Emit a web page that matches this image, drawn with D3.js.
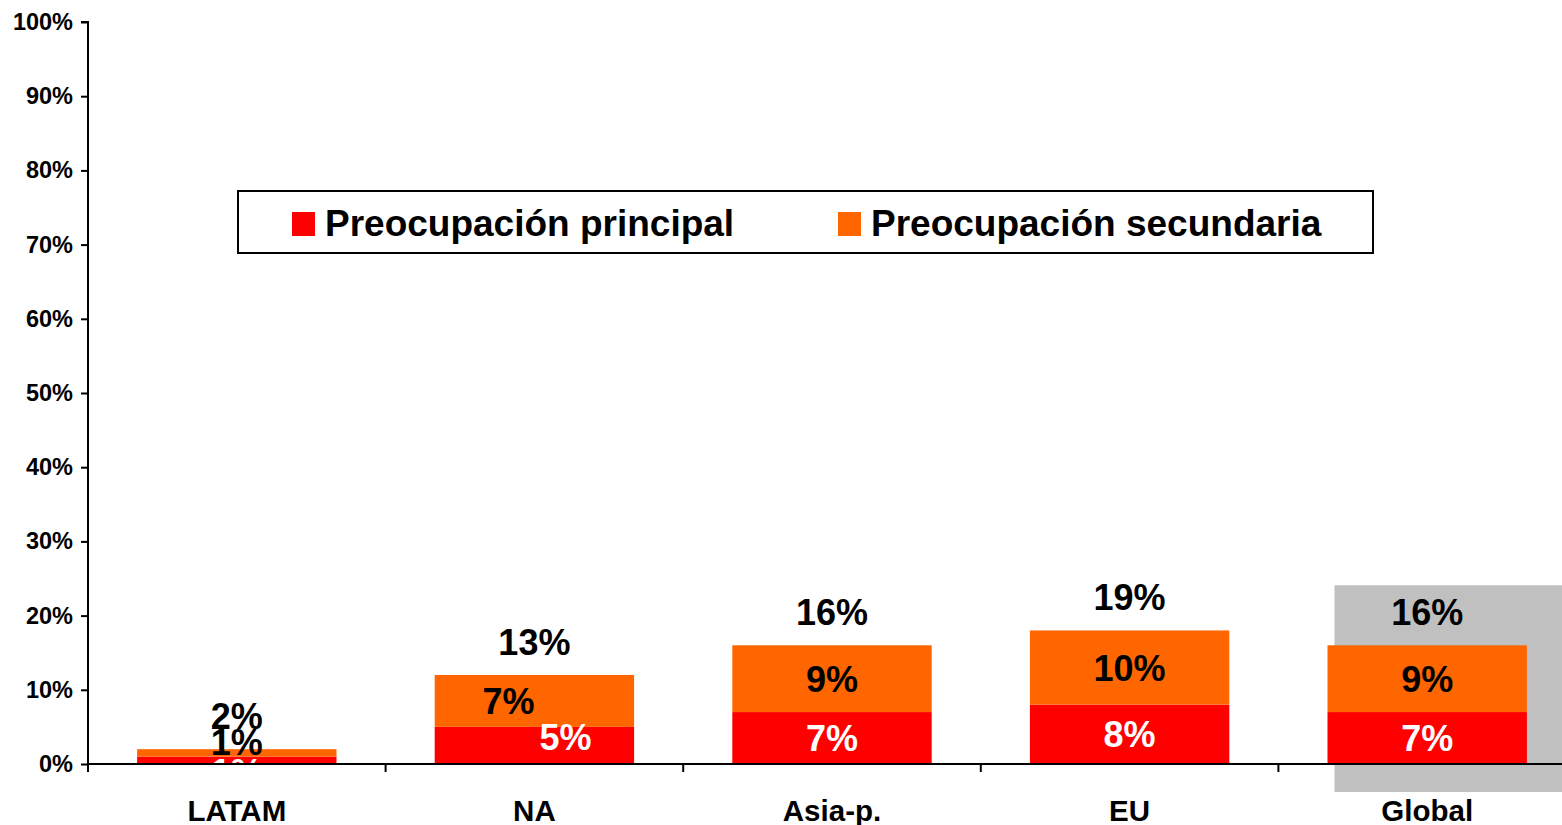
<!DOCTYPE html>
<html>
<head>
<meta charset="utf-8">
<script src="https://cdn.jsdelivr.net/npm/d3@7"></script>
<style>
  html, body { margin: 0; padding: 0; background: #fff; }
  svg { display: block; font-family: "Liberation Sans", Arial, sans-serif; font-weight: bold; }
</style>
</head>
<body>
<svg id="chart" width="1562" height="825"></svg>
<script>
// Regions on the x axis
const regions = ["LATAM", "NA", "Asia-p.", "EU", "Global"];
// Share of respondents (%) per concern level
const principal = [1, 5, 7, 8, 7];
const secondary = [1, 7, 9, 10, 9];
// Combined share shown above each stack
const totals = [2, 13, 16, 19, 16];
// Series names for the legend
const seriesNames = ["Preocupación principal", "Preocupación secundaria"];
// Y axis ticks (%)
const yTicks = [0, 10, 20, 30, 40, 50, 60, 70, 80, 90, 100];
// Region singled out with a shaded backdrop
const highlighted = "Global";

(function draw() {
  const colors = { principal: "#ff0000", secondary: "#ff6600" };

  const svg = d3.select("#chart");
  const W = 1562;
  const plotLeft = 88, plotTop = 22, plotBottom = 764;
  const step = (1576 - plotLeft) / regions.length;

  const y = d3.scaleLinear().domain([0, 100]).range([plotBottom, plotTop]);
  const x = d3.scaleBand().domain(regions).range([plotLeft, plotLeft + step * regions.length])
    .paddingInner(0.33).paddingOuter(0.165);

  // Shaded backdrop behind the highlighted region
  const hi = regions.indexOf(highlighted);
  const hx = x(highlighted) + x.bandwidth() * 0.035;
  const hTop = y(principal[hi] + secondary[hi]) - 60;
  svg.append("rect")
    .attr("x", hx).attr("y", hTop)
    .attr("width", W - hx).attr("height", (plotBottom + 28) - hTop)
    .attr("fill", "#c0c0c0");

  const rows = regions.map((r, i) => ({ region: r, p: principal[i], s: secondary[i], t: totals[i] }));

  // Stacked segments
  const g = svg.append("g");
  g.selectAll("rect.p").data(rows).join("rect")
    .attr("class", "p")
    .attr("x", d => x(d.region)).attr("width", x.bandwidth())
    .attr("y", d => y(d.p)).attr("height", d => y(0) - y(d.p))
    .attr("fill", colors.principal);
  g.selectAll("rect.s").data(rows).join("rect")
    .attr("class", "s")
    .attr("x", d => x(d.region)).attr("width", x.bandwidth())
    .attr("y", d => y(d.p + d.s)).attr("height", d => y(d.p) - y(d.p + d.s))
    .attr("fill", colors.secondary);

  // Hand-placed label offsets where the default spot was crowded
  const nudge = { "NA": { p: [31, -8], s: [-26, 0] } };

  const capHalf = 13;
  const labelData = rows.map(d => {
    let mp = (y(0) + y(d.p)) / 2;
    let ms = (y(d.p) + y(d.p + d.s)) / 2;
    if (Math.abs(mp - ms) < 30) {           // spread overlapping labels apart
      const c = (mp + ms) / 2;
      mp = c + 15; ms = c - 15;
    }
    const n = nudge[d.region] || { p: [0, 0], s: [0, 0] };
    const cx = x(d.region) + x.bandwidth() / 2;
    return { ...d, cx, mp, ms, n };
  });

  const labels = svg.append("g").attr("text-anchor", "middle").attr("font-size", 36);
  labels.selectAll("text.s").data(labelData).join("text")
    .attr("class", "s")
    .attr("x", d => d.cx + d.n.s[0]).attr("y", d => d.ms + capHalf + d.n.s[1])
    .attr("fill", "#000").text(d => d.s + "%");
  labels.selectAll("text.p").data(labelData).join("text")
    .attr("class", "p")
    .attr("x", d => d.cx + d.n.p[0]).attr("y", d => d.mp + capHalf + d.n.p[1])
    .attr("fill", "#fff").text(d => d.p + "%");
  labels.selectAll("text.t").data(labelData).join("text")
    .attr("class", "t")
    .attr("x", d => d.cx).attr("y", d => y(d.p + d.s) - 33 + capHalf)
    .attr("fill", "#000").text(d => d.t + "%");

  // Y axis
  const yAxis = svg.append("g").attr("transform", `translate(${plotLeft},0)`)
    .call(d3.axisLeft(y).tickValues(yTicks).tickFormat(d => d + "%").tickSize(7).tickPadding(8));
  yAxis.select(".domain").attr("stroke", "#000").attr("stroke-width", 2)
    .attr("d", `M-7,${y(100)}H0V${y(0)}`);
  yAxis.selectAll(".tick line").attr("stroke", "#000").attr("stroke-width", 2);
  yAxis.selectAll(".tick text").attr("font-size", 23.5).attr("font-weight", "bold")
    .attr("font-family", "Liberation Sans, Arial, sans-serif").attr("fill", "#000");

  // X axis with ticks on category boundaries
  const xAxis = svg.append("g");
  xAxis.append("line").attr("x1", plotLeft).attr("x2", W).attr("y1", y(0)).attr("y2", y(0))
    .attr("stroke", "#000").attr("stroke-width", 2);
  const bounds = d3.range(regions.length + 1).map(i => plotLeft + i * step);
  xAxis.selectAll("line.tk").data(bounds).join("line")
    .attr("class", "tk")
    .attr("x1", d => d).attr("x2", d => d).attr("y1", y(0)).attr("y2", y(0) + 8)
    .attr("stroke", "#000").attr("stroke-width", 2);
  xAxis.selectAll("text").data(regions).join("text")
    .attr("x", d => x(d) + x.bandwidth() / 2).attr("y", 821)
    .attr("text-anchor", "middle").attr("font-size", 29.5).attr("fill", "#000")
    .text(d => d);

  // Legend
  const lg = svg.append("g");
  lg.append("rect").attr("x", 238).attr("y", 191).attr("width", 1135).attr("height", 62)
    .attr("fill", "#fff").attr("stroke", "#000").attr("stroke-width", 2);
  const legendItems = [
    { name: seriesNames[0], color: colors.principal, x: 292 },
    { name: seriesNames[1], color: colors.secondary, x: 838 }
  ];
  const li = lg.selectAll("g.item").data(legendItems).join("g").attr("class", "item")
    .attr("transform", d => `translate(${d.x},0)`);
  li.append("rect").attr("x", 0).attr("y", 212).attr("width", 23).attr("height", 24)
    .attr("fill", d => d.color);
  li.append("text").attr("x", 33).attr("y", 236).attr("font-size", 37).attr("fill", "#000")
    .text(d => d.name);
})();
</script>
</body>
</html>
